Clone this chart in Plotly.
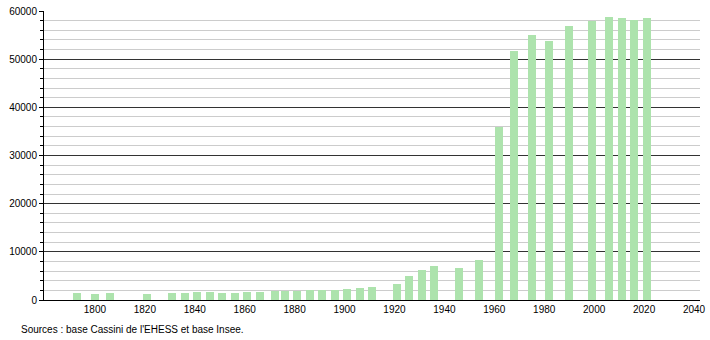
import plotly.graph_objects as go

years = [1793, 1800, 1806, 1821, 1831, 1836, 1841, 1846, 1851, 1856, 1861, 1866,
         1872, 1876, 1881, 1886, 1891, 1896, 1901, 1906, 1911, 1921, 1926, 1931,
         1936, 1946, 1954, 1962, 1968, 1975, 1982, 1990, 1999, 2006, 2011, 2016, 2021]
population = [1500, 1250, 1500, 1300, 1500, 1400, 1700, 1700, 1500, 1500, 1700, 1700,
              1850, 1800, 1800, 2050, 2000, 2100, 2250, 2550, 2700, 3300, 5000, 6200,
              7050, 6700, 8300, 36000, 51700, 55000, 53800, 56850, 58000, 58750, 58500, 58100, 58500]
x_ticks = [1800, 1820, 1840, 1860, 1880, 1900, 1920, 1940, 1960, 1980, 2000, 2020, 2040]
y_ticks = [0, 10000, 20000, 30000, 40000, 50000, 60000]
y_labels = [str(v) for v in y_ticks]
source_text = "Sources : base Cassini de l'EHESS et base Insee."

fig = go.Figure()
fig.add_trace(go.Bar(x=years, y=population, width=3.2,
                     marker=dict(color="#ade3ad", line=dict(width=0))))

font = dict(family="Liberation Sans, Arial, sans-serif", size=10, color="#000")
fig.update_layout(
    width=710, height=340,
    margin=dict(l=44, r=10, t=11, b=40),
    plot_bgcolor="white", paper_bgcolor="white",
    showlegend=False, font=font, bargap=0,
    xaxis=dict(range=[1779.6, 2042.4], tickvals=x_ticks, showgrid=False,
               showline=True, linecolor="#000", linewidth=1, ticks="",
               zeroline=False, tickfont=font, automargin=False),
    yaxis=dict(range=[0, 60000], tickvals=y_ticks, ticktext=y_labels,
               showgrid=True, gridcolor="#333",
               gridwidth=1, showline=True, linecolor="#000", linewidth=1,
               ticks="outside", ticklen=4, tickcolor="#000", zeroline=False,
               tickfont=font, automargin=False,
               minor=dict(dtick=2000, showgrid=True, gridcolor="#cccccc", gridwidth=1,
                          ticks="outside", ticklen=3, tickcolor="#000")),
    annotations=[dict(text=source_text, xref="paper", yref="paper", x=-0.038, y=-0.075,
                      xanchor="left", yanchor="top", showarrow=False, font=font)],
)
fig.write_html("out.html")
